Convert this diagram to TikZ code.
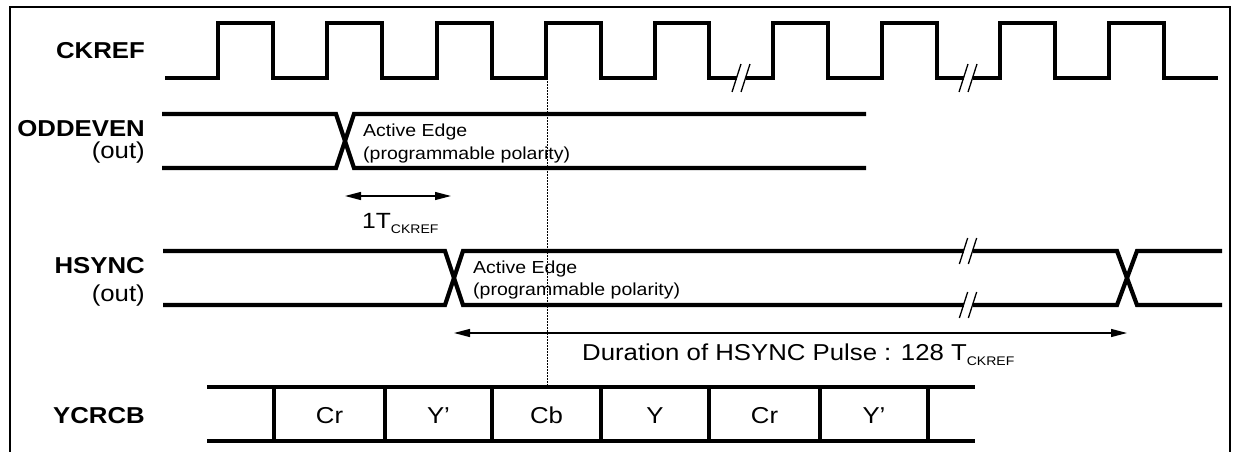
\documentclass[tikz,border=0pt]{standalone}
\usepackage{fontspec}
\setmainfont{Liberation Sans}[FakeStretch=1.12]
\usetikzlibrary{arrows.meta}
\newcommand\wavebreak[3]{% x, y, half height
  \fill[white] (#1-4.5,#2-3) rectangle (#1+4.5,#2+3);
  \draw[brk] (#1-4.5-0.32*#3,#2+#3) -- (#1-4.5+0.32*#3,#2-#3);
  \draw[brk] (#1+4.5-0.32*#3,#2+#3) -- (#1+4.5+0.32*#3,#2-#3);
}
\newcommand\subck{\raisebox{-5pt}{\fontsize{12.5}{13}\selectfont CKREF}}
\begin{document}
\begin{tikzpicture}[x=1pt,y=-1pt,
  sig/.style={line width=4.2pt, line join=miter},
  frame/.style={line width=1.6pt},
  brk/.style={line width=1.3pt},
  lbl/.style={font=\fontsize{23}{26}\selectfont\bfseries, anchor=base east, inner sep=0pt},
  sublbl/.style={font=\fontsize{23}{26}\selectfont, anchor=base east, inner sep=0pt},
  note/.style={font=\fontsize{17.4}{20}\selectfont, anchor=base west, inner sep=0pt, align=left},
  cell/.style={font=\fontsize{23}{26}\selectfont, anchor=base, inner sep=0pt},
  dimtxt/.style={font=\fontsize{23}{26}\selectfont, anchor=base west, inner sep=0pt},
  dim/.style={line width=1.3pt, {Triangle[length=16pt,width=8pt]}-{Triangle[length=16pt,width=8pt]}},
  guide/.style={line width=0.7pt, dash pattern=on 2pt off 1pt},
]
\useasboundingbox (0,0) rectangle (1233,452);
\draw[frame] (10,452) -- (10,7) -- (1230,7) -- (1230,452);

% labels
\node[lbl] (lck) at (145,59) {CKREF};
\node[lbl] (loe) at (145,136) {ODDEVEN};
\node[sublbl] (loeo) at (145,158) {(out)};
\node[lbl] (lhs) at (145,273) {HSYNC};
\node[sublbl] (lhso) at (145,301) {(out)};
\node[lbl] (lyc) at (145,423) {YCRCB};

% notes
\node[note] (oenote1) at (363,136) {Active Edge};
\node[note] (oenote2) at (363,159) {(programmable polarity)};
\node[note] (hsnote1) at (473,273) {Active Edge};
\node[note] (hsnote2) at (473,295) {(programmable polarity)};

% guide line
\coordinate (gtop) at (547,78);
\coordinate (gbot) at (547,387);
\draw[guide] (gtop) -- (gbot);

% CKREF
\draw[sig] (165,78) -- (218,78) -- (218,23) -- (273,23) -- (273,78) -- (327,78) -- (327,23) -- (382,23) -- (382,78)
  -- (437,78) -- (437,23) -- (492,23) -- (492,78) -- (546,78) -- (546,23) -- (601,23) -- (601,78)
  -- (655,78) -- (655,23) -- (709,23) -- (709,78) -- (773,78) -- (773,23) -- (828,23) -- (828,78)
  -- (882,78) -- (882,23) -- (937,23) -- (937,78) -- (1000,78) -- (1000,23) -- (1055,23) -- (1055,78)
  -- (1109,78) -- (1109,23) -- (1164,23) -- (1164,78) -- (1218,78);
\wavebreak{741}{78}{14}
\wavebreak{968}{78}{14}

% ODDEVEN
\draw[sig] (162,114) -- (336,114) -- (354,168) -- (866,168);
\draw[sig] (162,168) -- (336,168) -- (354,114) -- (866,114);

% 1T arrow
\coordinate (t1a) at (345,196);
\coordinate (t1b) at (451,196);
\draw[dim] (t1a) -- (t1b);
\node[dimtxt, font=\fontsize{22}{25}\selectfont] (t1lbl) at (362,228) {1T\subck};

% HSYNC
\draw[sig] (163,251) -- (445,251) -- (463,305) -- (1117,305) -- (1137,251) -- (1222,251);
\draw[sig] (163,305) -- (445,305) -- (463,251) -- (1117,251) -- (1137,305) -- (1222,305);
\wavebreak{968}{251}{13}
\wavebreak{968}{305}{13}

% duration arrow
\coordinate (da) at (454,333);
\coordinate (db) at (1127,333);
\draw[dim] (da) -- (db);
\node[dimtxt] (dlbl) at (582,360) {Duration of HSYNC Pulse : 128 T\subck};

% YCRCB
\draw[sig] (207,387) -- (975,387);
\draw[sig] (207,441) -- (975,441);
\foreach \x in {274,385,492,601,709,820,928} \draw[sig] (\x,387) -- (\x,441);
\node[cell] (c1) at (329.5,423) {Cr};
\node[cell] (c2) at (438.5,423) {Y’};
\node[cell] (c3) at (546.5,423) {Cb};
\node[cell] (c4) at (655,423) {Y};
\node[cell] (c5) at (764.5,423) {Cr};
\node[cell] (c6) at (874,423) {Y’};
\end{tikzpicture}
\end{document}
